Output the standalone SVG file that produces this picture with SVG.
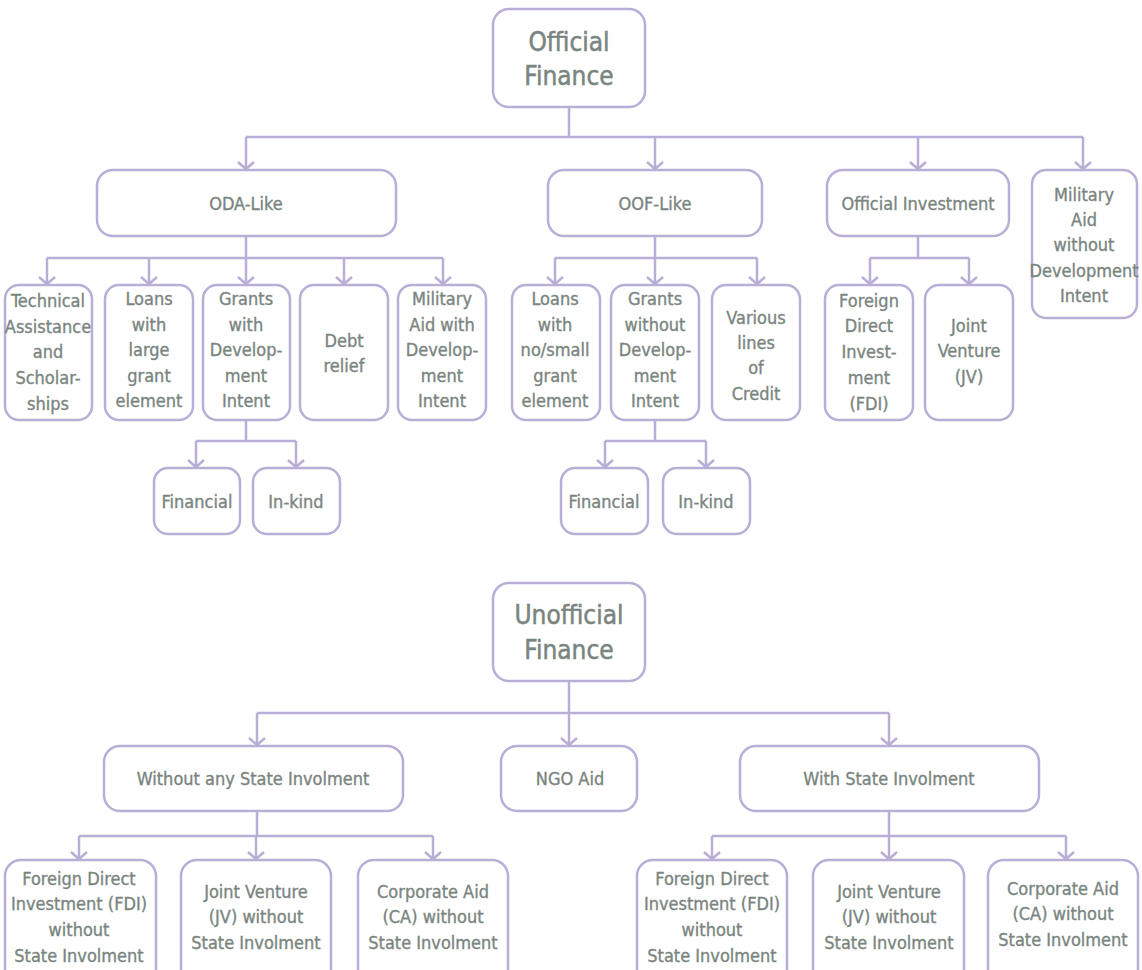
<svg xmlns="http://www.w3.org/2000/svg" width="1142" height="970" viewBox="0 0 1142 970">
<style>
.b{fill:#fff;stroke:#b8aed6;stroke-width:2.5}
.c{fill:none;stroke:#b8aed6;stroke-width:2.5}
.t{font-family:"DejaVu Sans Condensed","DejaVu Sans",sans-serif;font-stretch:condensed;font-size:18px;fill:#7a8580;stroke:#7a8580;stroke-width:0.35;text-anchor:middle}
.h{font-size:26px;stroke-width:0.5}
</style>
<defs>
<marker id="a" markerUnits="userSpaceOnUse" viewBox="-12 -12 24 24" markerWidth="24" markerHeight="24" refX="0" refY="0" orient="auto" overflow="visible">
<path d="M-7,-8 L0,0 L-7,8" fill="none" stroke="#b8aed6" stroke-width="2.5"/>
</marker>
</defs>
<rect width="1142" height="970" fill="#fff"/>
<g id="connectors" class="c">
<path d="M569,107 V137 M246,137 H1083"/>
<path d="M246,137 V169" marker-end="url(#a)"/>
<path d="M655,137 V169" marker-end="url(#a)"/>
<path d="M918,137 V169" marker-end="url(#a)"/>
<path d="M1083,137 V169" marker-end="url(#a)"/>
<path d="M246,236 V258 M47,258 H443"/>
<path d="M47,258 V284" marker-end="url(#a)"/>
<path d="M149,258 V284" marker-end="url(#a)"/>
<path d="M246,258 V284" marker-end="url(#a)"/>
<path d="M344,258 V284" marker-end="url(#a)"/>
<path d="M443,258 V284" marker-end="url(#a)"/>
<path d="M246,420 V441 M196,441 H296"/>
<path d="M196,441 V467" marker-end="url(#a)"/>
<path d="M296,441 V467" marker-end="url(#a)"/>
<path d="M655,236 V258 M555,258 H757"/>
<path d="M555,258 V284" marker-end="url(#a)"/>
<path d="M655,258 V284" marker-end="url(#a)"/>
<path d="M757,258 V284" marker-end="url(#a)"/>
<path d="M655,420 V441 M605,441 H706"/>
<path d="M605,441 V467" marker-end="url(#a)"/>
<path d="M706,441 V467" marker-end="url(#a)"/>
<path d="M918,236 V258 M870,258 H969"/>
<path d="M870,258 V284" marker-end="url(#a)"/>
<path d="M969,258 V284" marker-end="url(#a)"/>
<path d="M569,681 V713 M257,713 H889"/>
<path d="M257,713 V745" marker-end="url(#a)"/>
<path d="M569,713 V745" marker-end="url(#a)"/>
<path d="M889,713 V745" marker-end="url(#a)"/>
<path d="M257,811 V836 M79,836 H433"/>
<path d="M79,836 V859" marker-end="url(#a)"/>
<path d="M256,836 V859" marker-end="url(#a)"/>
<path d="M433,836 V859" marker-end="url(#a)"/>
<path d="M889,811 V836 M712,836 H1066"/>
<path d="M712,836 V859" marker-end="url(#a)"/>
<path d="M889,836 V859" marker-end="url(#a)"/>
<path d="M1066,836 V859" marker-end="url(#a)"/>
</g>
<g id="official-finance"><rect class="b" x="493" y="9" width="152" height="98" rx="16"/><text class="t h" x="569" y="51">Official</text><text class="t h" x="569" y="85">Finance</text></g>
<g id="oda-like"><rect class="b" x="97" y="170" width="299" height="66" rx="16"/><text class="t" x="246" y="210">ODA-Like</text></g>
<g id="oof-like"><rect class="b" x="548" y="170" width="214" height="66" rx="16"/><text class="t" x="655" y="210">OOF-Like</text></g>
<g id="official-investment"><rect class="b" x="827" y="170" width="182" height="66" rx="16"/><text class="t" x="918" y="210">Official Investment</text></g>
<g id="military-aid-without"><rect class="b" x="1032" y="170" width="105" height="148" rx="14"/><text class="t" x="1084" y="201">Military</text><text class="t" x="1084" y="226">Aid</text><text class="t" x="1084" y="251">without</text><text class="t" x="1084" y="277">Development</text><text class="t" x="1084" y="302">Intent</text></g>
<g id="technical-assistance"><rect class="b" x="5" y="285" width="87" height="135" rx="14"/><text class="t" x="48" y="307">Technical</text><text class="t" x="48" y="333">Assistance</text><text class="t" x="48" y="358">and</text><text class="t" x="48" y="384">Scholar-</text><text class="t" x="48" y="410">ships</text></g>
<g id="loans-large"><rect class="b" x="105" y="285" width="88" height="135" rx="14"/><text class="t" x="149" y="305">Loans</text><text class="t" x="149" y="331">with</text><text class="t" x="149" y="356">large</text><text class="t" x="149" y="382">grant</text><text class="t" x="149" y="407">element</text></g>
<g id="grants-with-dev"><rect class="b" x="203" y="285" width="87" height="135" rx="14"/><text class="t" x="246" y="305">Grants</text><text class="t" x="246" y="331">with</text><text class="t" x="246" y="356">Develop-</text><text class="t" x="246" y="382">ment</text><text class="t" x="246" y="407">Intent</text></g>
<g id="debt-relief"><rect class="b" x="300" y="285" width="88" height="135" rx="14"/><text class="t" x="344" y="347">Debt</text><text class="t" x="344" y="372">relief</text></g>
<g id="military-aid-with"><rect class="b" x="398" y="285" width="88" height="135" rx="14"/><text class="t" x="442" y="305">Military</text><text class="t" x="442" y="331">Aid with</text><text class="t" x="442" y="356">Develop-</text><text class="t" x="442" y="382">ment</text><text class="t" x="442" y="407">Intent</text></g>
<g id="financial-1"><rect class="b" x="154" y="468" width="86" height="66" rx="14"/><text class="t" x="197" y="508">Financial</text></g>
<g id="in-kind-1"><rect class="b" x="253" y="468" width="87" height="66" rx="14"/><text class="t" x="296" y="508">In-kind</text></g>
<g id="loans-small"><rect class="b" x="512" y="285" width="88" height="135" rx="14"/><text class="t" x="555" y="305">Loans</text><text class="t" x="555" y="331">with</text><text class="t" x="555" y="356">no/small</text><text class="t" x="555" y="382">grant</text><text class="t" x="555" y="407">element</text></g>
<g id="grants-without-dev"><rect class="b" x="611" y="285" width="88" height="135" rx="14"/><text class="t" x="655" y="305">Grants</text><text class="t" x="655" y="331">without</text><text class="t" x="655" y="356">Develop-</text><text class="t" x="655" y="382">ment</text><text class="t" x="655" y="407">Intent</text></g>
<g id="various-credit"><rect class="b" x="712" y="285" width="88" height="135" rx="14"/><text class="t" x="756" y="324">Various</text><text class="t" x="756" y="349">lines</text><text class="t" x="756" y="374">of</text><text class="t" x="756" y="400">Credit</text></g>
<g id="financial-2"><rect class="b" x="561" y="468" width="87" height="66" rx="14"/><text class="t" x="604" y="508">Financial</text></g>
<g id="in-kind-2"><rect class="b" x="663" y="468" width="87" height="66" rx="14"/><text class="t" x="706" y="508">In-kind</text></g>
<g id="fdi"><rect class="b" x="825" y="285" width="88" height="135" rx="14"/><text class="t" x="869" y="307">Foreign</text><text class="t" x="869" y="332">Direct</text><text class="t" x="869" y="358">Invest-</text><text class="t" x="869" y="384">ment</text><text class="t" x="869" y="410">(FDI)</text></g>
<g id="jv"><rect class="b" x="925" y="285" width="88" height="135" rx="14"/><text class="t" x="969" y="332">Joint</text><text class="t" x="969" y="357">Venture</text><text class="t" x="969" y="383">(JV)</text></g>
<g id="unofficial-finance"><rect class="b" x="493" y="583" width="152" height="98" rx="16"/><text class="t h" x="569" y="624">Unofficial</text><text class="t h" x="569" y="659">Finance</text></g>
<g id="without-state"><rect class="b" x="104" y="746" width="299" height="65" rx="16"/><text class="t" x="253" y="785">Without any State Involment</text></g>
<g id="ngo-aid"><rect class="b" x="501" y="746" width="136" height="65" rx="16"/><text class="t" x="570" y="785">NGO Aid</text></g>
<g id="with-state"><rect class="b" x="740" y="746" width="299" height="65" rx="16"/><text class="t" x="889" y="785">With State Involment</text></g>
<g id="fdi-without"><rect class="b" x="5" y="860" width="151" height="125" rx="16"/><text class="t" x="79" y="885">Foreign Direct</text><text class="t" x="79" y="910">Investment (FDI)</text><text class="t" x="79" y="936">without</text><text class="t" x="79" y="962">State Involment</text></g>
<g id="jv-without"><rect class="b" x="181" y="860" width="150" height="125" rx="16"/><text class="t" x="256" y="898">Joint Venture</text><text class="t" x="256" y="923">(JV) without</text><text class="t" x="256" y="949">State Involment</text></g>
<g id="ca-without"><rect class="b" x="358" y="860" width="150" height="125" rx="16"/><text class="t" x="433" y="898">Corporate Aid</text><text class="t" x="433" y="923">(CA) without</text><text class="t" x="433" y="949">State Involment</text></g>
<g id="fdi-with"><rect class="b" x="637" y="860" width="150" height="125" rx="16"/><text class="t" x="712" y="885">Foreign Direct</text><text class="t" x="712" y="910">Investment (FDI)</text><text class="t" x="712" y="936">without</text><text class="t" x="712" y="962">State Involment</text></g>
<g id="jv-with"><rect class="b" x="813" y="860" width="151" height="125" rx="16"/><text class="t" x="889" y="898">Joint Venture</text><text class="t" x="889" y="923">(JV) without</text><text class="t" x="889" y="949">State Involment</text></g>
<g id="ca-with"><rect class="b" x="988" y="860" width="150" height="125" rx="16"/><text class="t" x="1063" y="895">Corporate Aid</text><text class="t" x="1063" y="920">(CA) without</text><text class="t" x="1063" y="946">State Involment</text></g>
</svg>
